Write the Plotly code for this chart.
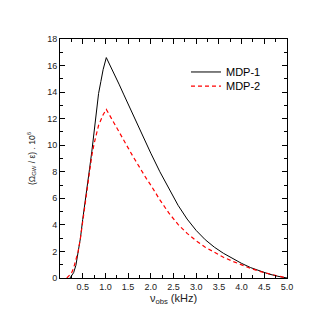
import plotly.graph_objects as go

x_mdp1 = [0.22, 0.3, 0.35, 0.4, 0.45, 0.5, 0.55, 0.6, 0.65, 0.7, 0.75, 0.8, 0.85, 0.9, 0.95, 1.02,
          1.1, 1.2, 1.3, 1.4, 1.5, 1.6, 1.7, 1.8, 1.9, 2.0, 2.2, 2.4, 2.6, 2.8, 3.0, 3.2, 3.4, 3.6,
          3.8, 4.0, 4.2, 4.4, 4.6, 4.8, 5.0]
y_mdp1 = [0.0, 0.4, 0.95, 1.9, 3.0, 4.4, 5.8, 7.0, 8.2, 9.5, 10.9, 12.4, 13.9, 14.8, 15.7, 16.6,
          16.05, 15.35, 14.6, 13.85, 13.1, 12.4, 11.65, 10.9, 10.15, 9.4, 8.0, 6.68, 5.48, 4.44, 3.58,
          2.88, 2.32, 1.86, 1.46, 1.1, 0.78, 0.52, 0.3, 0.13, 0.0]

x_mdp2 = [0.15, 0.25, 0.3, 0.35, 0.4, 0.45, 0.5, 0.55, 0.6, 0.65, 0.7, 0.75, 0.8, 0.85, 0.9, 0.95,
          1.02, 1.1, 1.2, 1.3, 1.4, 1.5, 1.6, 1.7, 1.8, 1.9, 2.0, 2.2, 2.4, 2.6, 2.8, 3.0, 3.2,
          3.4, 3.6, 3.8, 4.0, 4.2, 4.4, 4.6, 4.8, 5.0]
y_mdp2 = [0.0, 0.35, 0.75, 1.3, 2.0, 3.0, 4.2, 5.5, 6.85, 8.1, 9.2, 10.1, 10.9, 11.5, 11.9, 12.3,
          12.7, 12.2, 11.65, 11.0, 10.4, 9.8, 9.2, 8.6, 8.05, 7.5, 7.0, 5.88, 4.88, 4.04, 3.36, 2.8,
          2.32, 1.92, 1.56, 1.26, 0.98, 0.72, 0.5, 0.31, 0.15, 0.0]

x_ticks = [0.5, 1.0, 1.5, 2.0, 2.5, 3.0, 3.5, 4.0, 4.5, 5.0]
x_tick_labels = ["0.5", "1.0", "1.5", "2.0", "2.5", "3.0", "3.5", "4.0", "4.5", "5.0"]
y_ticks = [0, 2, 4, 6, 8, 10, 12, 14, 16, 18]

fig = go.Figure()
fig.add_trace(go.Scatter(x=x_mdp1, y=y_mdp1, mode="lines", name="MDP-1",
                         line=dict(color="black", width=1), legend="legend"))
fig.add_trace(go.Scatter(x=x_mdp2, y=y_mdp2, mode="lines", name="MDP-2",
                         line=dict(color="#ff0000", width=1.2, dash="4px,3px"), legend="legend2"))

axis_common = dict(showline=True, linecolor="black", linewidth=1, mirror="allticks",
                   ticks="inside", ticklen=5, tickcolor="black", showgrid=False,
                   zeroline=False, tickfont=dict(size=9, color="#222"))

fig.update_xaxes(range=[0, 5], tickvals=x_ticks, ticktext=x_tick_labels,
                 minor=dict(ticks="inside", ticklen=3, dtick=0.25, tick0=0, tickcolor="black"),
                 title=dict(text="ν<sub>obs</sub> (kHz)", font=dict(size=11, color="#222"), standoff=2),
                 **axis_common)
fig.update_yaxes(range=[0, 18], tickvals=y_ticks,
                 minor=dict(ticks="inside", ticklen=3, dtick=1, tick0=0, tickcolor="black"),
                 title=dict(text="(Ω<sub>GW</sub> / ε) . 10<sup>6</sup>", font=dict(size=8.5, color="#222"), standoff=10),
                 **axis_common)

legend_common = dict(xanchor="left", yanchor="middle", bgcolor="rgba(0,0,0,0)",
                     font=dict(size=11, color="black"), itemwidth=30)

fig.update_layout(
    width=326, height=326,
    margin=dict(l=52, r=47, t=31, b=56),
    paper_bgcolor="white", plot_bgcolor="white",
    font=dict(family="Liberation Sans, Arial, sans-serif"),
    showlegend=True,
    legend=dict(x=0.555, y=0.862, **legend_common),
    legend2=dict(x=0.555, y=0.803, **legend_common),
)

fig.write_html("out.html")
